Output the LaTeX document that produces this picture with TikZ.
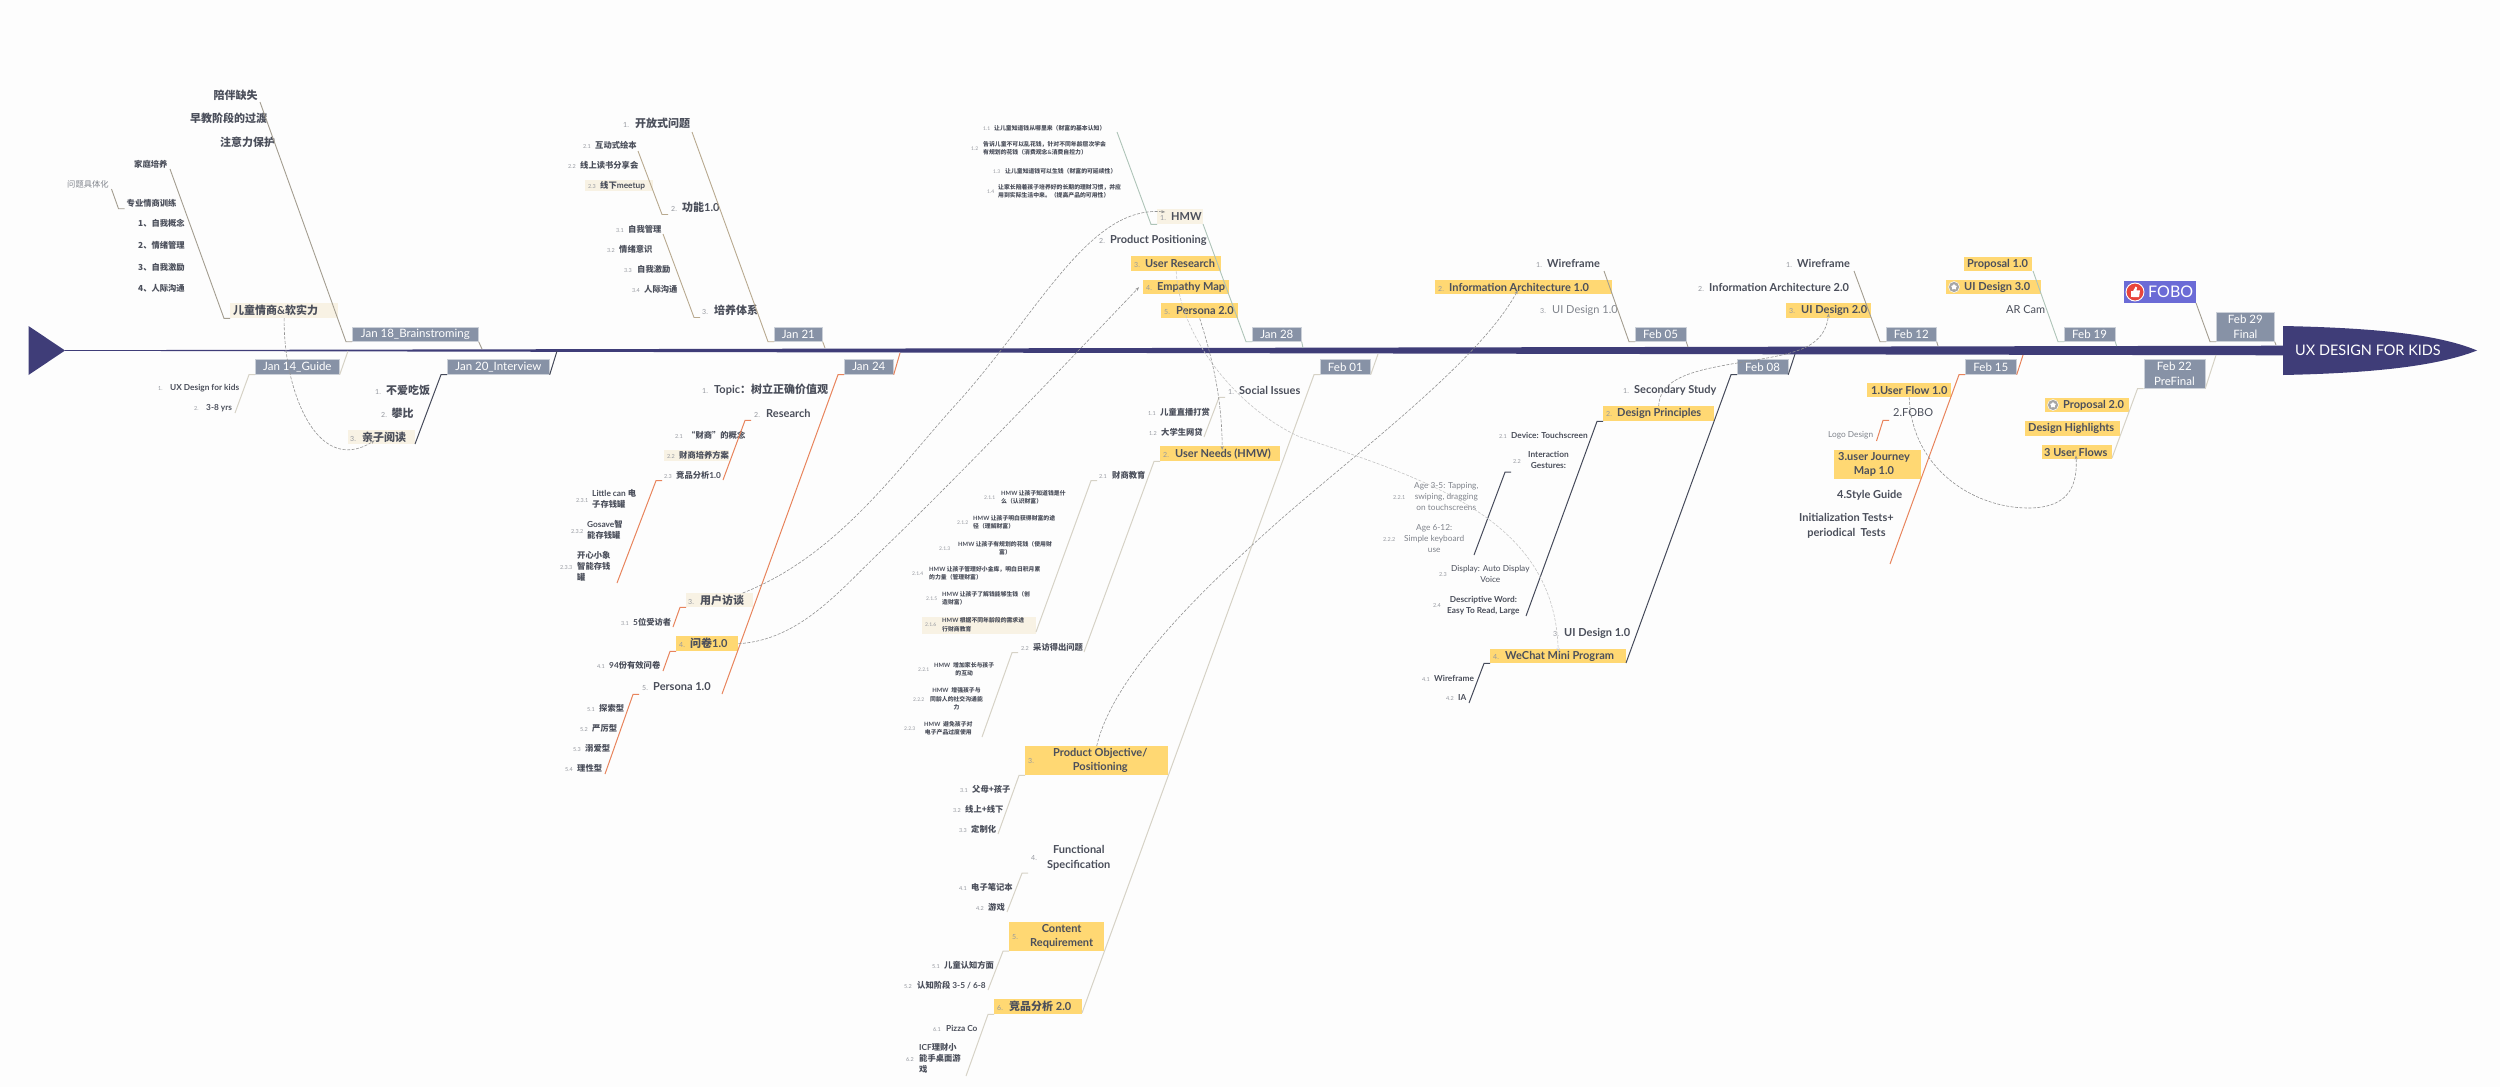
\documentclass[tikz,border=0pt]{standalone}
\usepackage{fontspec}
\usepackage{array}
\usetikzlibrary{arrows.meta,shapes.geometric}
\setmainfont{Lato}
\newfontfamily\cjk{Noto Sans CJK SC}
\definecolor{bgc}{HTML}{FDFDFD}
\definecolor{navy}{HTML}{3F3D78}
\definecolor{datec}{HTML}{8792A6}
\definecolor{datee}{HTML}{CBD0D8}
\definecolor{hlc}{HTML}{FFD873}
\definecolor{palec}{HTML}{F8F2E4}
\definecolor{txtc}{HTML}{4B4F5B}
\definecolor{grayt}{HTML}{80848C}
\definecolor{numc}{HTML}{95989F}
\definecolor{bTanC}{HTML}{A39D90}
\definecolor{bBrownC}{HTML}{B8A98F}
\definecolor{bOrangeC}{HTML}{E8845C}
\definecolor{bLightC}{HTML}{D6D2C6}
\definecolor{bDarkC}{HTML}{454A5A}
\definecolor{bSageC}{HTML}{AEC4B8}
\definecolor{foboblue}{HTML}{6B6BD6}
\definecolor{fobored}{HTML}{E8453C}
\def\nsz{5}
\newcommand\zh[1]{{\cjk #1}}
\newcommand\fA{\fontsize{11}{14.4}\selectfont\bfseries\def\nsz{7}}
\newcommand\fB{\fontsize{8.3}{11}\selectfont\bfseries\def\nsz{5.5}}
\newcommand\fC{\fontsize{5.85}{8.2}\selectfont\bfseries\def\nsz{5}}
\newcommand\nm[1]{{\fontsize{\nsz}{\nsz}\selectfont\mdseries\color{numc}#1}}
\newcommand\ml[2]{\begin{tabular}[c]{@{}#1@{}}#2\end{tabular}}
% text node: [opts]{name}{num}{xnum}{xtext}{y}{style}{text}
\newcommand\tn[8][]{\node[tnode,#7,#1] (#2) at (#4,#6) {\hbox{\rlap{\nm{#3}}\hskip\dimexpr #5pt-#4pt\relax #8}};}
% box content: {x1}{x2}{xnum}{xtext}{num}{text}
\newcommand\bt[6]{\hbox to \dimexpr #2pt-#1pt\relax{\hskip\dimexpr #3pt-#1pt\relax\rlap{\nm{#5}}\hskip\dimexpr #4pt-#3pt\relax #6\hss}}
\newcommand\bone[4]{\coordinate (#2e) at (#3); \draw[#1] (#2e) -- ([xshift={-(#4+6)*1pt}]#2.south west) -- ([xshift={-(#4)*1pt}]#2.south west);}
\newcommand\stem[3]{\coordinate (#2s) at (#3); \draw[#1] (#2.south east) -- (#2s);}
\tikzset{
 tnode/.style={anchor=west,inner sep=0pt,text=txtc},
 lvA/.style={font=\fA,minimum height=14.5pt},
 lvB/.style={font=\fB,minimum height=11pt},
 lvC/.style={font=\fC,minimum height=8pt},
 box/.style n args={4}{at={(#1,#2)},anchor=north west,inner sep=0pt,text=txtc,minimum width={(#3-(#1))*1pt},minimum height={(#4-(#2))*1pt}},
 hl/.style={fill=hlc},
 pale/.style={fill=palec},
 datebox/.style={fill=datec,draw=datee,line width=.7pt,text=white,align=center,font=\fontsize{11.5}{14.6}\selectfont},
 bTan/.style={draw=bTanC,line width=.9pt},
 bBrown/.style={draw=bBrownC,line width=.9pt},
 bOrange/.style={draw=bOrangeC,line width=1pt},
 bLight/.style={draw=bLightC,line width=1pt},
 bDark/.style={draw=bDarkC,line width=1pt},
 bSage/.style={draw=bSageC,line width=.9pt},
 dD/.style={draw=gray!85,line width=.6pt,dash pattern=on 3pt off 1.5pt,-{Stealth[length=4pt,width=3pt]}},
 dL/.style={draw=gray!45,line width=.6pt,dash pattern=on 3pt off 1.5pt,-{Stealth[length=4pt,width=3pt]}},
}
\begin{document}
\begin{tikzpicture}[x=1pt,y=-1pt]
\useasboundingbox (0,0) rectangle (2500,1087);
\fill[bgc] (0,0) rectangle (2500,1087);
% spine
\fill[navy] (28.5,326) -- (65,350.5) -- (28.5,375) -- cycle;
\fill[navy] (65,350.2) -- (2283,345.7) -- (2283,355.3) -- (65,350.8) -- cycle;
\fill[navy] (2283,326) .. controls (2380,328) and (2440,335) .. (2477,350.5) .. controls (2440,365) and (2380,373) .. (2283,375) -- cycle;
\node[anchor=west,inner sep=0pt,text=white,font=\fontsize{14.5}{16}\selectfont] (title) at (2295,350.5) {UX DESIGN FOR KIDS};
% date boxes
\node[box={352}{327}{478}{341},datebox] (jan18) {Jan 18\_Brainstroming};
\node[box={255}{359}{339}{374},datebox] (jan14) {Jan 14\_Guide};
\node[box={447}{359}{549}{374},datebox] (jan20) {Jan 20\_Interview};
\node[box={774}{327}{822}{341},datebox] (jan21) {Jan 21};
\node[box={844}{359}{893}{374},datebox] (jan24) {Jan 24};
\node[box={1252}{327}{1301}{341},datebox] (jan28) {Jan 28};
\node[box={1320}{359}{1370}{374},datebox] (feb01) {Feb 01};
\node[box={1635}{327}{1685.5}{341},datebox] (feb05) {Feb 05};
\node[box={1737}{359}{1787.5}{374},datebox] (feb08) {Feb 08};
\node[box={1886}{327}{1936}{341},datebox] (feb12) {Feb 12};
\node[box={1965}{359}{2016}{374},datebox] (feb15) {Feb 15};
\node[box={2064}{327}{2114.5}{341},datebox] (feb19) {Feb 19};
\node[box={2143.5}{359}{2204.5}{388},datebox] (feb22) {Feb 22\\PreFinal};
\node[box={2216}{312}{2274}{341},datebox] (feb29) {Feb 29\\Final};
% Jan 18
\tn{pw1}{}{213.5}{213.5}{95}{lvA}{\zh{陪伴缺失}}
\tn{pw2}{}{190}{190}{118}{lvA}{\zh{早教阶段的过渡}}
\tn{pw3}{}{220}{220}{142}{lvA}{\zh{注意力保护}}
\node[box={230}{303}{338}{318},pale,font=\fA] (kids) {\bt{230}{338}{233}{233}{}{\zh{儿童情商}\&\zh{软实力}}};
\tn{jt}{}{134}{134}{164}{lvB}{\zh{家庭培养}}
\tn[text=grayt,font=\fB\mdseries]{wt}{}{67}{67}{184}{lvB}{\zh{问题具体化}}
\tn{zyqs}{}{126.5}{126.5}{203}{lvB}{\zh{专业情商训练}}
\tn{q1}{}{138}{138}{223}{lvB}{\zh{1、自我概念}}
\tn{q2}{}{138}{138}{245}{lvB}{\zh{2、情绪管理}}
\tn{q3}{}{138}{138}{267}{lvB}{\zh{3、自我激励}}
\tn{q4}{}{138}{138}{288}{lvB}{\zh{4、人际沟通}}
% Jan 14
\tn{g1}{1.}{158}{170}{388}{lvB}{UX Design for kids}
\tn{g2}{2.}{194}{206}{408}{lvB}{3-8 yrs}
% Jan 20
\tn{i1}{1.}{375}{386}{390}{lvA}{\zh{不爱吃饭}}
\tn{i2}{2.}{381}{391.5}{413}{lvA}{\zh{攀比}}
\node[box={348}{430}{415}{444},pale,font=\fA] (qinzi) {\bt{348}{415}{350}{362}{3.}{\zh{亲子阅读}}};
% Jan 21
\tn{a1}{1.}{623}{635}{123}{lvA}{\zh{开放式问题}}
\tn{gn}{2.}{671}{682}{207}{lvA}{\zh{功能}1.0}
\tn{py}{3.}{702}{714}{310}{lvA}{\zh{培养体系}}
\tn{a21}{2.1}{583}{595}{145}{lvB}{\zh{互动式绘本}}
\tn{a22}{2.2}{568}{580}{165}{lvB}{\zh{线上读书分享会}}
\node[box={585}{180}{653}{191},pale,font=\fB] (a23) {\bt{585}{653}{588}{600}{2.3}{\zh{线下}meetup}};
\tn{a31}{3.1}{616}{628}{229}{lvB}{\zh{自我管理}}
\tn{a32}{3.2}{607}{619}{249}{lvB}{\zh{情绪意识}}
\tn{a33}{3.3}{624}{637}{269}{lvB}{\zh{自我激励}}
\tn{a34}{3.4}{632}{644}{289}{lvB}{\zh{人际沟通}}
% Jan 24
\tn{topic}{1.}{702}{714}{390}{lvA}{Topic\zh{：树立正确价值观}}
\tn{research}{2.}{754}{766}{413}{lvA}{Research}
\tn{r21}{2.1}{675}{687}{435}{lvB}{\zh{“财商”的概念}}
\node[box={664}{450}{729}{461},pale,font=\fB] (r22) {\bt{664}{729}{667}{679}{2.2}{\zh{财商培养方案}}};
\tn{jp10}{2.3}{664}{676}{475}{lvB}{\zh{竞品分析}1.0}
\tn{r231}{2.3.1}{576}{592}{500}{lvB}{\ml{l}{Little can \zh{电}\\\zh{子存钱罐}}}
\tn{r232}{2.3.2}{571}{587}{531}{lvB}{\ml{l}{Gosave\zh{智}\\\zh{能存钱罐}}}
\tn{r233}{2.3.3}{560}{577}{567}{lvB}{\ml{l}{\zh{开心小象}\\\zh{智能存钱}\\\zh{罐}}}
\node[box={686}{593}{753}{607},pale,font=\fA] (interview) {\bt{686}{753}{688}{700}{3.}{\zh{用户访谈}}};
\tn{r31}{3.1}{621}{633}{622}{lvB}{5\zh{位受访者}}
\node[box={676}{636}{738}{651},hl,font=\fA] (wj) {\bt{676}{738}{679}{690}{4.}{\zh{问卷}1.0}};
\tn{r41}{4.1}{597}{609}{665}{lvB}{94\zh{份有效问卷}}
\tn{persona1}{5.}{642}{653}{687}{lvA}{Persona 1.0}
\tn{r51}{5.1}{587}{599}{708}{lvB}{\zh{探索型}}
\tn{r52}{5.2}{580}{592}{728}{lvB}{\zh{严厉型}}
\tn{r53}{5.3}{573}{585}{748}{lvB}{\zh{溺爱型}}
\tn{r54}{5.4}{565}{577}{768}{lvB}{\zh{理性型}}
% Jan 28
\tn{h11}{1.1}{983}{994}{128}{lvC}{\zh{让儿童知道钱从哪里来（财富的基本认知）}}
\tn{h12}{1.2}{971}{983}{149}{lvC}{\ml{l}{\zh{告诉儿童不可以乱花钱，针对不同年龄层次学会}\\\zh{有规划的花钱（消费观念}\&\zh{消费自控力）}}}
\tn{h13}{1.3}{993}{1005}{171}{lvC}{\zh{让儿童知道钱可以生钱（财富的可延续性）}}
\tn{h14}{1.4}{987}{998}{192}{lvC}{\ml{l}{\zh{让家长陪着孩子培养好的长期的理财习惯，并应}\\\zh{用到实际生活中来。（提高产品的可用性）}}}
\node[box={1157}{209}{1203}{224},pale,font=\fA] (hmw) {\bt{1157}{1203}{1160}{1171}{1.}{HMW}};
\tn{pp}{2.}{1099}{1110}{240}{lvA}{Product Positioning}
\node[box={1131}{256}{1221}{271},hl,font=\fA] (ur) {\bt{1131}{1221}{1134}{1145}{3.}{User Research}};
\node[box={1143}{280}{1229}{294},hl,font=\fA] (emp) {\bt{1143}{1229}{1146}{1157}{4.}{Empathy Map}};
\node[box={1161}{303}{1238}{318},hl,font=\fA] (p2) {\bt{1161}{1238}{1164}{1176}{5.}{Persona 2.0}};
% Feb 01
\tn{social}{1.}{1228}{1239}{390}{lvA}{Social Issues}
\tn{s11}{1.1}{1148}{1160}{412}{lvB}{\zh{儿童直播打赏}}
\tn{s12}{1.2}{1149}{1161}{432}{lvB}{\zh{大学生网贷}}
\node[box={1160}{446}{1280}{461},hl,font=\fA] (needs) {\bt{1160}{1280}{1163}{1175}{2.}{User Needs (HMW)}};
\tn{caishang}{2.1}{1099}{1112}{475}{lvB}{\zh{财商教育}}
\tn{n211}{2.1.1}{984}{1001}{498}{lvC}{\ml{l}{HMW \zh{让孩子知道钱是什}\\\zh{么（认识财富）}}}
\tn{n212}{2.1.2}{957}{973}{523}{lvC}{\ml{l}{HMW \zh{让孩子明白获得财富的途}\\\zh{径（理解财富）}}}
\tn{n213}{2.1.3}{939}{958}{548.5}{lvC}{\ml{c}{HMW \zh{让孩子有规划的花钱（使用财}\\\zh{富）}}}
\tn{n214}{2.1.4}{912}{929}{574}{lvC}{\ml{l}{HMW \zh{让孩子管理好小金库，明白日积月累}\\\zh{的力量（管理财富）}}}
\tn{n215}{2.1.5}{926}{942}{599}{lvC}{\ml{l}{HMW \zh{让孩子了解钱能够生钱（创}\\\zh{造财富）}}}
\node[box={922}{617}{1036}{633},pale,font=\fC] (n216) {\bt{922}{1036}{925}{942}{2.1.6}{\ml{l}{HMW \zh{根据不同年龄段的需求进}\\\zh{行财商教育}}}};
\tn{caifang}{2.2}{1021}{1033}{647}{lvB}{\zh{采访得出问题}}
\tn{n221}{2.2.1}{918}{934}{670}{lvC}{\ml{c}{HMW \ \zh{增加家长与孩子}\\\zh{的互动}}}
\tn{n222}{2.2.2}{913}{930}{699.5}{lvC}{\ml{c}{HMW \ \zh{增强孩子与}\\\zh{同龄人的社交沟通能}\\\zh{力}}}
\tn{n223}{2.2.3}{904}{924}{729}{lvC}{\ml{c}{HMW \ \zh{避免孩子对}\\\zh{电子产品过度使用}}}
\node[box={1025}{746}{1168}{775},hl,font=\fA] (po) {\bt{1025}{1168}{1028}{1053}{3.}{\ml{c}{Product Objective/\\Positioning}}};
\tn{o31}{3.1}{960}{972}{789}{lvB}{\zh{父母+孩子}}
\tn{o32}{3.2}{953}{965}{809}{lvB}{\zh{线上+线下}}
\tn{o33}{3.3}{959}{971}{829}{lvB}{\zh{定制化}}
\tn[minimum height=30pt]{func}{4.}{1031}{1047}{858}{lvA}{\ml{c}{Functional\\Specification}}
\tn{o41}{4.1}{959}{971}{887}{lvB}{\zh{电子笔记本}}
\tn{o42}{4.2}{976}{988}{907}{lvB}{\zh{游戏}}
\node[box={1009}{922}{1104}{950},hl,font=\fA] (cr) {\bt{1009}{1104}{1012}{1030}{5.}{\ml{c}{Content\\Requirement}}};
\tn{o51}{5.1}{932}{944}{965}{lvB}{\zh{儿童认知方面}}
\tn{o52}{5.2}{904}{917}{985}{lvB}{\zh{认知阶段} 3-5 / 6-8}
\node[box={994}{999}{1082}{1014},hl,font=\fA] (jp2) {\bt{994}{1082}{997}{1009}{6.}{\zh{竞品分析} 2.0}};
\tn{o61}{6.1}{933}{946}{1028}{lvB}{Pizza Co}
\tn{o62}{6.2}{906}{919}{1059}{lvB}{\ml{l}{ICF\zh{理财小}\\\zh{能手桌面游}\\\zh{戏}}}
% Feb 05
\tn{w1}{1.}{1536}{1547}{263}{lvA}{Wireframe}
\node[box={1435}{280}{1612}{294},hl,font=\fA] (ia1) {\bt{1435}{1612}{1438}{1449}{2.}{Information Architecture 1.0}};
\tn[text=grayt,font=\fA\mdseries]{ui1}{3.}{1540}{1552}{310}{lvA}{UI Design 1.0}
% Feb 12
\tn{w2}{1.}{1786}{1797}{263}{lvA}{Wireframe}
\tn{ia2}{2.}{1698}{1709}{287}{lvA}{Information Architecture 2.0}
\node[box={1786}{303}{1871}{318},hl,font=\fA] (ui2) {\bt{1786}{1871}{1789}{1801}{3.}{UI Design 2.0}};
% Feb 08
\tn{sec}{1.}{1623}{1634}{390}{lvA}{Secondary Study}
\node[box={1603}{406}{1714}{421},hl,font=\fA] (dp) {\bt{1603}{1714}{1606}{1617}{2.}{Design Principles}};
\tn{d21}{2.1}{1499}{1511}{435}{lvB}{Device: Touchscreen}
\tn[minimum height=21pt]{jiaohu}{2.2}{1513}{1528}{461}{lvB}{\ml{c}{Interaction\\Gestures:}}
\tn[text=grayt,font=\fB\mdseries]{d221}{2.2.1}{1393}{1414}{497}{lvB}{\ml{c}{Age 3-5: Tapping,\\swiping, dragging\\on touchscreens}}
\tn[text=grayt,font=\fB\mdseries]{d222}{2.2.2}{1383}{1404}{539}{lvB}{\ml{c}{Age 6-12:\\Simple keyboard\\use}}
\tn[font=\fB\mdseries]{d23}{2.3}{1439}{1451}{574.5}{lvB}{\ml{c}{Display: Auto Display\\Voice}}
\tn{d24}{2.4}{1433}{1447}{605.5}{lvB}{\ml{c}{Descriptive Word:\\Easy To Read, Large}}
\tn{ui13}{3.}{1553}{1564}{633}{lvA}{UI Design 1.0}
\node[box={1490}{649}{1626}{663},hl,font=\fA] (wechat) {\bt{1490}{1626}{1493}{1505}{4.}{WeChat Mini Program}};
\tn{d41}{4.1}{1422}{1434}{678}{lvB}{Wireframe}
\tn{d42}{4.2}{1446}{1458}{698}{lvB}{IA}
% Feb 15
\node[box={1867}{383}{1951}{397},hl,font=\fA] (uf) {\bt{1867}{1951}{1871}{1871}{}{1.User Flow 1.0}};
\tn[font=\fA\mdseries]{fobo2}{}{1893}{1893}{413}{lvA}{2.FOBO}
\tn[text=grayt,font=\fB\mdseries]{logo}{}{1828}{1828}{435}{lvB}{Logo Design}
\node[box={1834}{450}{1921}{479},hl,font=\fA] (ujm) {\bt{1834}{1921}{1838}{1838}{}{\ml{c}{3.user Journey\\Map 1.0}}};
\tn{sg}{}{1837}{1837}{495}{lvA}{4.Style Guide}
\tn{it}{}{1799}{1799}{526}{lvA}{\ml{c}{Initialization Tests+\\periodical \ Tests}}
% Feb 19
\node[box={1964}{257}{2032}{271},hl,font=\fA] (p10) {\bt{1964}{2032}{1967}{1967}{}{Proposal 1.0}};
\node[box={1946}{280}{2041}{294},hl,font=\fA] (ui3) {\bt{1946}{2041}{1950}{1964}{}{UI Design 3.0}};
\node[circle,fill=gray!70,draw=white,line width=.5pt,minimum size=11pt,inner sep=0pt] (ui3i) at (1954,287) {};
\node[star,star points=5,fill=white,minimum size=6pt,inner sep=0pt] at (ui3i) {};
\tn[font=\fA\mdseries]{ar}{}{2006}{2006}{310}{lvA}{AR Cam}
% Feb 22
\node[box={2045}{398}{2129}{412},hl,font=\fA] (p20) {\bt{2045}{2129}{2048}{2063}{}{Proposal 2.0}};
\node[circle,fill=gray!70,draw=white,line width=.5pt,minimum size=11pt,inner sep=0pt] (p20i) at (2053,405) {};
\node[star,star points=5,fill=white,minimum size=6pt,inner sep=0pt] at (p20i) {};
\node[box={2025}{421}{2120}{436},hl,font=\fA] (dh) {\bt{2025}{2120}{2028}{2028}{}{Design Highlights}};
\node[box={2041.5}{445}{2112}{459},hl,font=\fA] (tf) {\bt{2041.5}{2112}{2044}{2044}{}{3 User Flows}};
% FOBO
\node[box={2124}{281}{2196}{303},fill=foboblue,text=white,font=\fontsize{16}{18}\selectfont] (fobo) {\bt{2124}{2196}{2148}{2148}{}{FOBO}};
\node[circle,fill=fobored,draw=white,line width=.9pt,minimum size=18pt,inner sep=0pt] (foboi) at (2135,292) {};
\fill[white] (2130.5,291) rectangle (2132.5,297);
\fill[white] (2133.2,291) -- (2135.5,286.5) -- (2137,287.5) -- (2136.5,290.3) -- (2140,290.3) -- (2139,297) -- (2133.2,297) -- cycle;
% bones
\bone{bTan}{jan18}{260,102}{0}
\bone{bTan}{kids}{170,169}{0}
\bone{bTan}{zyqs}{111.5,189}{2}
\bone{bLight}{jan14}{235,413}{0}
\bone{bDark}{jan20}{415,444}{0}
\bone{bBrown}{jan21}{692,132}{0}
\bone{bBrown}{gn}{638,151}{3}
\bone{bBrown}{py}{663,234}{2}
\bone{bOrange}{jan24}{722,694}{0}
\bone{bOrange}{research}{723,480}{3}
\bone{bOrange}{jp10}{617,583}{2}
\bone{bOrange}{interview}{673,627}{0}
\bone{bOrange}{wj}{663,671}{0}
\bone{bOrange}{persona1}{605,774}{3}
\bone{bSage}{hmw}{1117,132}{0}
\bone{bSage}{jan28}{1203,224}{0}
\bone{bLight}{feb01}{1082,1013}{0}
\bone{bLight}{social}{1204,437}{3}
\bone{bLight}{needs}{1084,652}{0}
\bone{bLight}{caishang}{1036,632}{2}
\bone{bLight}{caifang}{982,737}{3}
\bone{bLight}{po}{998,834}{0}
\bone{bLight}{func}{1007,912}{3}
\bone{bLight}{cr}{988,990}{0}
\bone{bLight}{jp2}{966,1076}{0}
\bone{bTan}{feb05}{1604,271}{0}
\bone{bTan}{feb12}{1854,271}{0}
\bone{bDark}{feb08}{1626,663}{0}
\bone{bDark}{dp}{1526,616}{0}
\bone{bDark}{jiaohu}{1474,555}{2}
\bone{bDark}{wechat}{1469,703}{0}
\bone{bOrange}{feb15}{1890,564}{0}
\bone{bOrange}{fobo2}{1876.5,441}{4}
\bone{bSage}{feb19}{2033,271}{0}
\bone{bTan}{feb29}{2196,303}{0}
\bone{bLight}{feb22}{2112,458}{0}
% stems
\stem{bTan}{jan18}{482,349}
\stem{bLight}{jan14}{348,351}
\stem{bDark}{jan20}{557,351}
\stem{bBrown}{jan21}{825,348}
\stem{bOrange}{jan24}{900,353}
\stem{bSage}{jan28}{1303,348}
\stem{bLight}{feb01}{1378,354}
\stem{bTan}{feb05}{1688,347}
\stem{bDark}{feb08}{1795,354}
\stem{bTan}{feb12}{1938,346}
\stem{bOrange}{feb15}{2023,355}
\stem{bSage}{feb19}{2116.6,346}
\stem{bLight}{feb22}{2216,355}
\stem{bTan}{feb29}{2276,345}
% dashed relations
\draw[dD] (kids.south) .. controls (283,385) and (315,478) .. ([xshift=-7pt,yshift=4pt]qinzi.south);
\draw[dD] ([xshift=23pt]interview.north) .. controls (840,555) and (900,465) .. (960,400) .. controls (1040,310) and (1090,205) .. ([xshift=-15pt,yshift=-3pt]hmw.north);
\draw[dD] (wj.east) .. controls (800,640) and (840,590) .. (880,552) .. controls (960,475) and (1060,370) .. ([xshift=-4pt]emp.west);
\draw[dL] (ur.south) .. controls (1180,340) and (1240,410) .. (1300,437) .. controls (1430,480) and (1555,520) .. ([yshift=-3pt]wechat.north);
\draw[dD] (p2.south) .. controls (1213,360) and (1222,400) .. ([xshift=2pt,yshift=-4pt]needs.north);
\draw[dD] (po.north) .. controls (1112,680) and (1190,600) .. (1280,520) .. controls (1360,450) and (1480,360) .. ([xshift=-6pt,yshift=4pt]ia1.south);
\draw[dD] (dp.north) .. controls (1660,372) and (1710,368) .. (1767,358) .. controls (1800,352) and (1825,345) .. ([yshift=5pt]ui2.south);
\draw[dD] (uf.south) .. controls (1912,470) and (1975,508) .. (2028,508) .. controls (2065,508) and (2078,490) .. ([xshift=-1pt,yshift=4pt]tf.south);
\end{tikzpicture}
\end{document}
